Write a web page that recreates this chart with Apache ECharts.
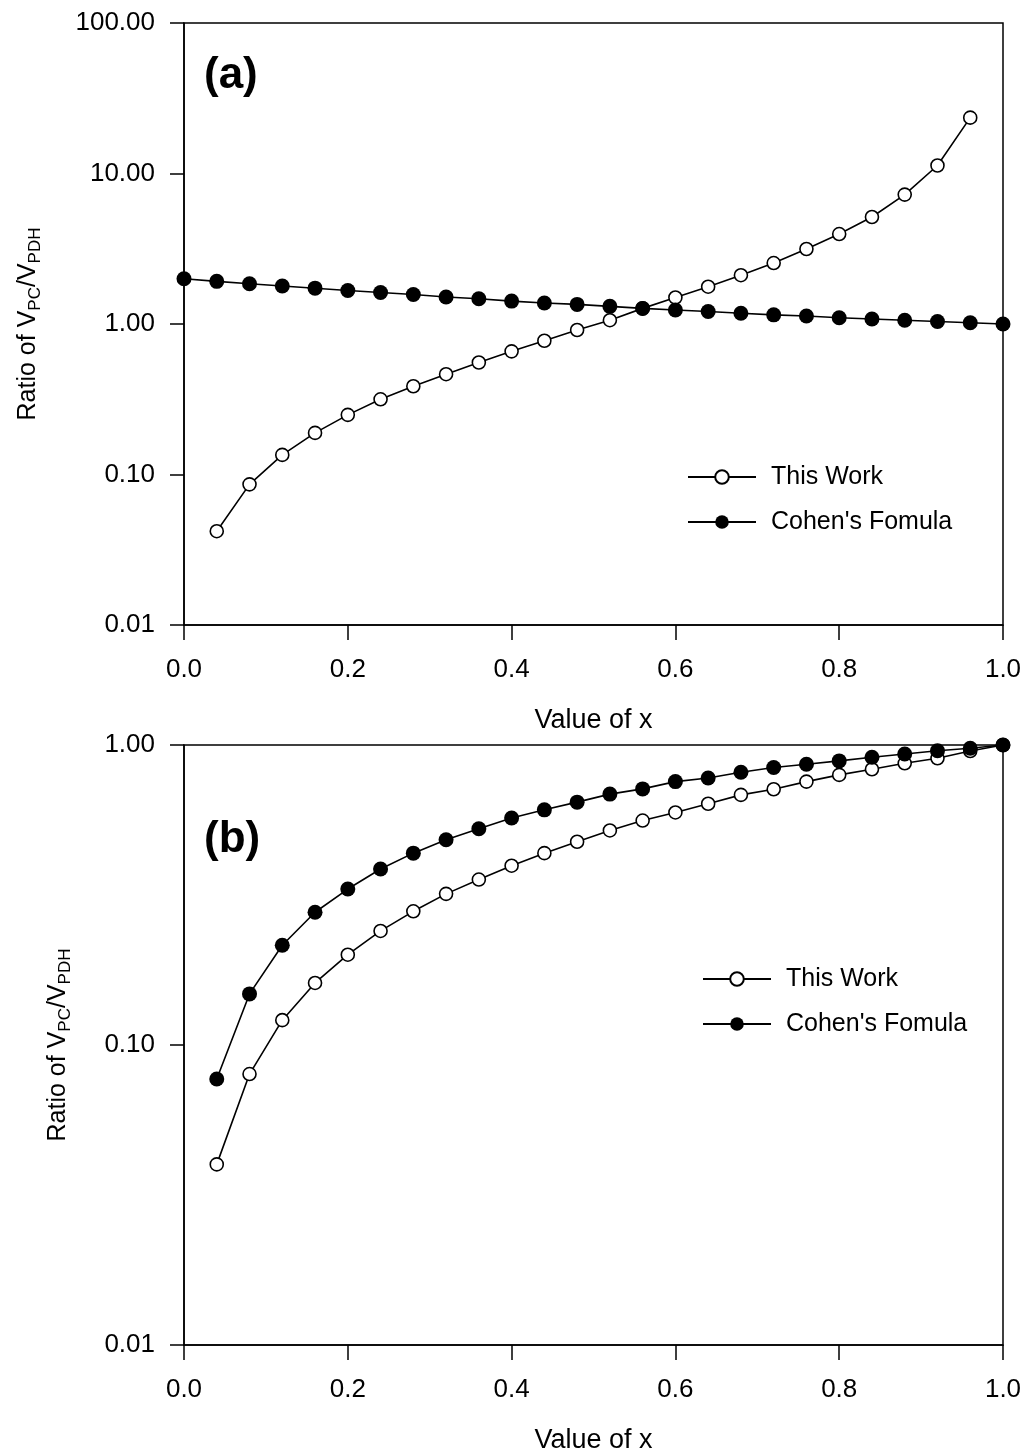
<!DOCTYPE html>
<html>
<head>
<meta charset="utf-8">
<script src="https://cdn.jsdelivr.net/npm/echarts@6/dist/echarts.min.js"></script>
<style>
  html, body { margin: 0; padding: 0; background: #fff; }
  #chart { width: 1025px; height: 1455px; }
</style>
</head>
<body>
<div id="chart"></div>
<script>
// Panel (a): ratio V_PC / V_PDH, 0 <= x <= 1
const xCohenA = [0.00, 0.04, 0.08, 0.12, 0.16, 0.20, 0.24, 0.28, 0.32, 0.36, 0.40, 0.44, 0.48,
                 0.52, 0.56, 0.60, 0.64, 0.68, 0.72, 0.76, 0.80, 0.84, 0.88, 0.92, 0.96, 1.00];
const cohenA = [2.00, 1.92, 1.85, 1.79, 1.73, 1.67, 1.62, 1.57, 1.51, 1.47, 1.42, 1.38, 1.35,
                1.31, 1.27, 1.24, 1.21, 1.18, 1.15, 1.13, 1.10, 1.08, 1.06, 1.04, 1.02, 1.00];
const xWorkA = [0.04, 0.08, 0.12, 0.16, 0.20, 0.24, 0.28, 0.32, 0.36, 0.40, 0.44, 0.48,
                0.52, 0.56, 0.60, 0.64, 0.68, 0.72, 0.76, 0.80, 0.84, 0.88, 0.92, 0.96];
const workA = [0.042, 0.086, 0.135, 0.189, 0.249, 0.316, 0.386, 0.464, 0.555, 0.658, 0.774, 0.912,
               1.06, 1.27, 1.50, 1.77, 2.11, 2.54, 3.15, 3.96, 5.14, 7.24, 11.3, 23.5];

// Panel (b)
const xB = [0.04, 0.08, 0.12, 0.16, 0.20, 0.24, 0.28, 0.32, 0.36, 0.40, 0.44, 0.48,
            0.52, 0.56, 0.60, 0.64, 0.68, 0.72, 0.76, 0.80, 0.84, 0.88, 0.92, 0.96, 1.00];
const workB = [0.040, 0.080, 0.121, 0.161, 0.200, 0.240, 0.279, 0.319, 0.356, 0.396, 0.436, 0.476,
               0.519, 0.560, 0.596, 0.637, 0.682, 0.712, 0.755, 0.795, 0.830, 0.869, 0.903, 0.955, 1.00];
const cohenB = [0.077, 0.148, 0.215, 0.277, 0.331, 0.386, 0.436, 0.483, 0.526, 0.571, 0.608, 0.645,
                0.686, 0.714, 0.755, 0.776, 0.811, 0.841, 0.863, 0.885, 0.910, 0.933, 0.957, 0.975, 1.00];

const seriesNames = ['This Work', "Cohen's Fomula"];
const panelTags = ['(a)', '(b)'];
const xTitle = 'Value of x';

const FONT = '"Liberation Sans", Arial, Helvetica, sans-serif';
const pairs = (xs, ys) => xs.map((x, i) => [x, ys[i]]);

const yName = '{m|Ratio of V}{s|PC}{m|/V}{s|PDH}';
const yNameStyle = {
  rich: {
    m: { fontSize: 25, fontFamily: FONT, color: '#000', lineHeight: 32, verticalAlign: 'middle' },
    s: { fontSize: 17, fontFamily: FONT, color: '#000', lineHeight: 17, verticalAlign: 'bottom' }
  }
};

function xAxis(gridIndex) {
  return {
    type: 'value', gridIndex, min: 0, max: 1, interval: 0.2,
    name: xTitle, nameLocation: 'middle', nameGap: 82,
    nameTextStyle: { fontSize: 27, fontFamily: FONT, color: '#000' },
    axisLine: { show: true, lineStyle: { color: '#000', width: 1.5 } },
    axisTick: { show: true, inside: false, length: 15, lineStyle: { color: '#000', width: 1.5 } },
    axisLabel: { margin: 32, fontSize: 26, fontFamily: FONT, color: '#000',
                 formatter: v => v.toFixed(1) },
    splitLine: { show: false }
  };
}

function yAxis(gridIndex, min, max, gap) {
  return {
    type: 'log', logBase: 10, gridIndex, min, max,
    name: yName, nameLocation: 'middle', nameGap: gap, nameRotate: 90,
    nameTextStyle: yNameStyle,
    axisLine: { show: true, lineStyle: { color: '#000', width: 1.5 } },
    axisTick: { show: true, inside: false, length: 14, lineStyle: { color: '#000', width: 1.5 } },
    axisLabel: { margin: 29, fontSize: 26, fontFamily: FONT, color: '#000',
                 formatter: v => Number(v).toFixed(2) },
    minorTick: { show: false },
    splitLine: { show: false }
  };
}

function workSeries(xi, yi, data) {
  return {
    name: seriesNames[0], type: 'line', xAxisIndex: xi, yAxisIndex: yi, data,
    symbol: 'circle', symbolSize: 13, clip: false,
    lineStyle: { color: '#000', width: 1.6 },
    itemStyle: { color: '#fff', borderColor: '#000', borderWidth: 1.6 },
    emphasis: { disabled: true }, animation: false, z: 2
  };
}
function cohenSeries(xi, yi, data) {
  return {
    name: seriesNames[1], type: 'line', xAxisIndex: xi, yAxisIndex: yi, data,
    symbol: 'circle', symbolSize: 15, clip: false,
    lineStyle: { color: '#000', width: 1.6 },
    itemStyle: { color: '#000', borderColor: '#000', borderWidth: 0 },
    emphasis: { disabled: true }, animation: false, z: 3
  };
}

function legend(left, top) {
  return {
    data: seriesNames, orient: 'vertical', left, top,
    itemWidth: 68, itemHeight: 17, itemGap: 19, selectedMode: false,
    textStyle: { fontSize: 25, fontFamily: FONT, color: '#000', lineHeight: 26, padding: [0, 0, 0, 10] }
  };
}

const chart = echarts.init(document.getElementById('chart'), null, { renderer: 'canvas' });
chart.setOption({
  backgroundColor: '#fff',
  animation: false,
  grid: [
    { left: 184, top: 23, width: 819, height: 602, show: true, borderColor: '#000', borderWidth: 1.5, backgroundColor: 'transparent' },
    { left: 184, top: 745, width: 819, height: 602, show: true, borderColor: '#000', borderWidth: 1.5, backgroundColor: 'transparent' }
  ],
  xAxis: [xAxis(0), xAxis(1)],
  yAxis: [yAxis(0, 0.01, 100, 140), yAxis(1, 0.01, 1, 110)],
  legend: [legend(682, 459), legend(697, 961)],
  series: [
    workSeries(0, 0, pairs(xWorkA, workA)),
    cohenSeries(0, 0, pairs(xCohenA, cohenA)),
    workSeries(1, 1, pairs(xB, workB)),
    cohenSeries(1, 1, pairs(xB, cohenB))
  ],
  graphic: [
    { type: 'text', left: 204, top: 54, style: { text: panelTags[0], font: 'bold 44px ' + FONT, fill: '#000' } },
    { type: 'text', left: 204, top: 818, style: { text: panelTags[1], font: 'bold 44px ' + FONT, fill: '#000' } }
  ]
});
</script>
</body>
</html>
